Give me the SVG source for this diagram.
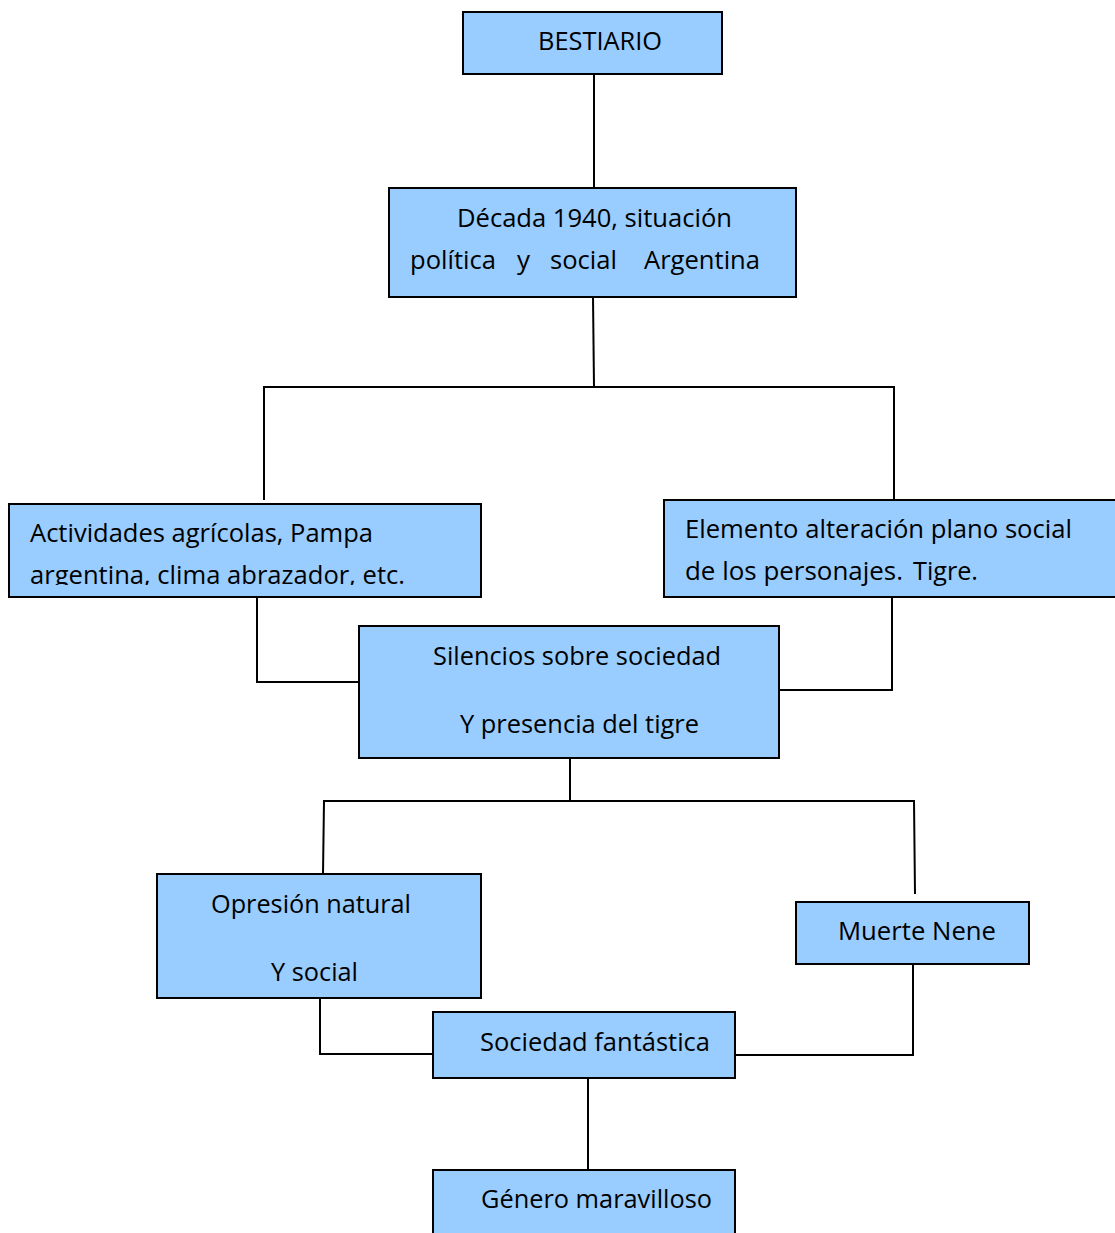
<svg xmlns="http://www.w3.org/2000/svg" width="1115" height="1233" viewBox="0 0 1115 1233">
  <style>
    .box { fill: #99CCFF; stroke: #000; stroke-width: 2; }
    .lbl { font-family: "Open Sans", "Noto Sans", "Liberation Sans", sans-serif; font-size: 26px; fill: #000; }
    .wire { fill: none; stroke: #000; stroke-width: 2; }
  </style>
  <defs>
    <clipPath id="clipAct">
      <rect x="9" y="504" width="472" height="81"/>
    </clipPath>
  </defs>
  <rect width="1115" height="1233" fill="#fff"/>

  <g id="connectors">
    <path class="wire" d="M594 74 V188"/>
    <path class="wire" d="M593 297 L594 387"/>
    <path class="wire" d="M264 500 V387 H894 V500"/>
    <path class="wire" d="M257 597 V682 H359"/>
    <path class="wire" d="M892 597 V690 H779"/>
    <path class="wire" d="M570 758 V801"/>
    <path class="wire" d="M323 874 L324 801 H914 L915 894"/>
    <path class="wire" d="M320 998 V1054 H433"/>
    <path class="wire" d="M913 964 V1055 H735"/>
    <path class="wire" d="M588 1078 V1170"/>
  </g>

  <g id="bestiario">
    <rect class="box" x="463" y="12" width="259" height="62"/>
    <text class="lbl" x="538" y="50" textLength="124" lengthAdjust="spacingAndGlyphs">BESTIARIO</text>
  </g>

  <g id="decada">
    <rect class="box" x="389" y="188" width="407" height="109"/>
    <text class="lbl" x="457" y="227" textLength="275" lengthAdjust="spacingAndGlyphs">Década 1940, situación</text>
    <text class="lbl" y="269"><tspan x="410" textLength="86" lengthAdjust="spacingAndGlyphs">política</tspan><tspan x="517">y</tspan><tspan x="550" textLength="67" lengthAdjust="spacingAndGlyphs">social</tspan><tspan x="644" textLength="116" lengthAdjust="spacingAndGlyphs">Argentina</tspan></text>
  </g>

  <g id="actividades">
    <rect class="box" x="9" y="504" width="472" height="93"/>
    <text class="lbl" x="30" y="542" textLength="343" lengthAdjust="spacingAndGlyphs">Actividades agrícolas, Pampa</text>
    <text class="lbl" x="30" y="584" textLength="375" lengthAdjust="spacingAndGlyphs" clip-path="url(#clipAct)">argentina, clima abrazador, etc.</text>
  </g>

  <g id="elemento">
    <rect class="box" x="664" y="500" width="460" height="97"/>
    <text class="lbl" x="685" y="538" textLength="387" lengthAdjust="spacingAndGlyphs">Elemento alteración plano social</text>
    <text class="lbl" y="580"><tspan x="685" textLength="218" lengthAdjust="spacingAndGlyphs">de los personajes.</tspan><tspan x="913" textLength="65" lengthAdjust="spacingAndGlyphs">Tigre.</tspan></text>
  </g>

  <g id="silencios">
    <rect class="box" x="359" y="626" width="420" height="132"/>
    <text class="lbl" x="433" y="665" textLength="288" lengthAdjust="spacingAndGlyphs">Silencios sobre sociedad</text>
    <text class="lbl" x="460" y="733" textLength="239" lengthAdjust="spacingAndGlyphs">Y presencia del tigre</text>
  </g>

  <g id="opresion">
    <rect class="box" x="157" y="874" width="324" height="124"/>
    <text class="lbl" x="211" y="913" textLength="200" lengthAdjust="spacingAndGlyphs">Opresión natural</text>
    <text class="lbl" x="271" y="981" textLength="87" lengthAdjust="spacingAndGlyphs">Y social</text>
  </g>

  <g id="muerte-nene">
    <rect class="box" x="796" y="902" width="233" height="62"/>
    <text class="lbl" x="838" y="940" textLength="158" lengthAdjust="spacingAndGlyphs">Muerte Nene</text>
  </g>

  <g id="sociedad-fantastica">
    <rect class="box" x="433" y="1012" width="302" height="66"/>
    <text class="lbl" x="480" y="1051" textLength="230" lengthAdjust="spacingAndGlyphs">Sociedad fantástica</text>
  </g>

  <g id="genero-maravilloso">
    <rect class="box" x="433" y="1170" width="302" height="80"/>
    <text class="lbl" x="481" y="1208" textLength="231" lengthAdjust="spacingAndGlyphs">Género maravilloso</text>
  </g>
</svg>
